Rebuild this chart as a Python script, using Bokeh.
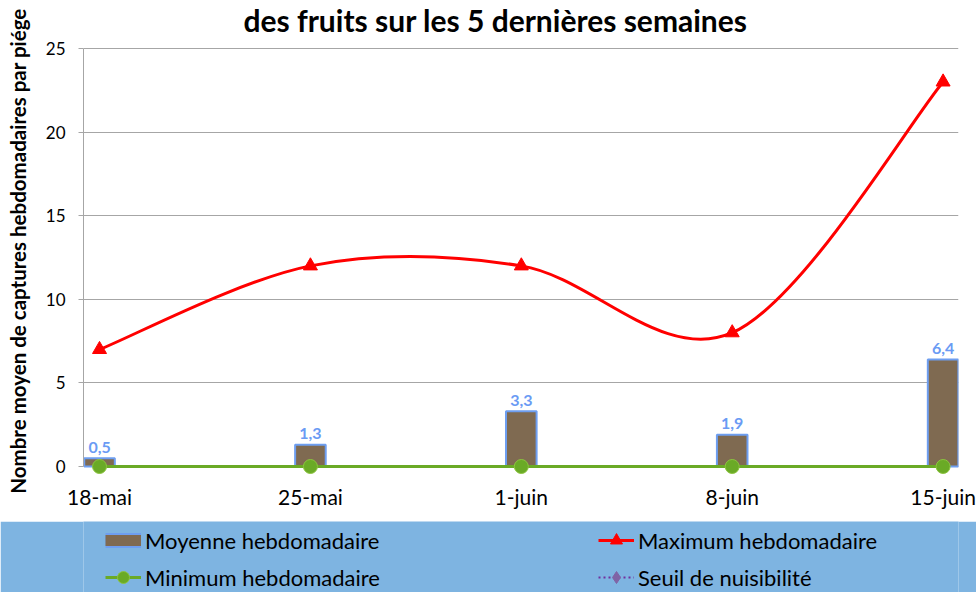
import numpy as np
from bokeh.plotting import figure
from bokeh.models import (Range1d, FixedTicker, Legend, LegendItem, Label,
                          ColumnDataSource)
from bokeh.layouts import column
from bokeh.embed import file_html
from bokeh.resources import INLINE
from bokeh.core.properties import value

# ---- data ----
weeks = ["18-mai", "25-mai", "1-juin", "8-juin", "15-juin"]
moyenne = [0.5, 1.3, 3.3, 1.9, 6.4]
maximum = [7, 12, 12, 8, 23]
minimum = [0, 0, 0, 0, 0]
seuil = [np.nan, np.nan, np.nan, np.nan, np.nan]
y_ticks = [0, 5, 10, 15, 20, 25]

FONT = "Lato"
GRID = "#A6A6A6"
BAR_FILL = "#7F6A51"
BAR_LINE = "#6E9EF0"
RED = "#FF0000"
GREEN = "#6AAA26"
PURPLE = "#7F64A6"
LABEL_BLUE = "#6A9BF4"
BAND = "#7EB4E1"

xs = np.arange(len(weeks), dtype=float)

# smoothed line (Catmull-Rom style) as bezier segments built from the data
mx = np.array(maximum, dtype=float)
n = len(xs)
seg = dict(x0=[], y0=[], x1=[], y1=[], cx0=[], cy0=[], cx1=[], cy1=[])
for i in range(n - 1):
    ip = max(i - 1, 0)
    inn = min(i + 2, n - 1)
    seg["x0"].append(xs[i]); seg["y0"].append(mx[i])
    seg["x1"].append(xs[i + 1]); seg["y1"].append(mx[i + 1])
    seg["cx0"].append(xs[i] + (xs[i + 1] - xs[ip]) / 6)
    seg["cy0"].append(mx[i] + (mx[i + 1] - mx[ip]) / 6)
    seg["cx1"].append(xs[i + 1] - (xs[inn] - xs[i]) / 6)
    seg["cy1"].append(mx[i + 1] - (mx[inn] - mx[i]) / 6)

src = ColumnDataSource(dict(
    x=xs, moy=moyenne, mx=maximum, mn=minimum, se=seuil,
    lbl=[f"{v:.1f}".replace(".", ",") for v in moyenne],
))

# ---- main chart ----
p = figure(width=976, height=521,
           x_range=Range1d(-0.076, 4.073), y_range=Range1d(-2.093, 27.871),
           output_backend="svg", toolbar_location=None,
           min_border_left=83, min_border_right=18,
           min_border_top=0, min_border_bottom=20)
p.outline_line_color = None
p.background_fill_color = "white"
p.border_fill_color = "white"

p.add_layout(Label(x=412, y=482, x_units="screen", y_units="screen",
                   text="des fruits sur les 5 dernières semaines",
                   text_align="center", text_baseline="alphabetic",
                   text_font=FONT, text_font_size="30px",
                   text_font_style="bold", text_color="black"))

p.xgrid.grid_line_color = None
p.ygrid.ticker = FixedTicker(ticks=y_ticks)
p.ygrid.grid_line_color = GRID
p.ygrid.grid_line_width = 1

xa = p.xaxis[0]
xa.ticker = FixedTicker(ticks=list(xs))
xa.major_label_overrides = {i: w for i, w in enumerate(weeks)}
xa.axis_line_color = None
xa.major_tick_line_color = None
xa.minor_tick_line_color = None
xa.major_tick_out = 0
xa.major_tick_in = 0
xa.major_label_standoff = -18
xa.major_label_text_font = FONT
xa.major_label_text_font_size = "21px"
xa.major_label_text_color = "black"

ya = p.yaxis[0]
ya.ticker = FixedTicker(ticks=y_ticks)
ya.bounds = (0, 25)
ya.axis_line_color = GRID
ya.major_tick_line_color = GRID
ya.minor_tick_line_color = None
ya.major_tick_out = 5
ya.major_tick_in = 0
ya.major_label_standoff = 13
ya.major_label_text_font = FONT
ya.major_label_text_font_size = "17px"
ya.major_label_text_color = "black"
ya.axis_label = "Nombre moyen de captures hebdomadaires par piége"
ya.axis_label_text_font = FONT
ya.axis_label_text_font_size = "20.5px"
ya.axis_label_text_font_style = "bold"
ya.axis_label_text_color = "black"
ya.axis_label_standoff = 13

p.vbar(x="x", top="moy", bottom=0, width=0.145, source=src,
       fill_color=BAR_FILL, line_color=BAR_LINE, line_width=2)
p.line(x="x", y="mn", source=src, line_color=GREEN, line_width=3)
p.scatter(x="x", y="mn", source=src, marker="circle", size=14,
          fill_color=GREEN, line_color="#8CC43F", line_width=1)
p.bezier(x0="x0", y0="y0", x1="x1", y1="y1", cx0="cx0", cy0="cy0",
         cx1="cx1", cy1="cy1", source=ColumnDataSource(seg),
         line_color=RED, line_width=3)
p.scatter(x="x", y="mx", source=src, marker="triangle", size=14,
          fill_color=RED, line_color=RED)
p.line(x="x", y="se", source=src, line_color=PURPLE, line_dash="2 2")
p.text(x="x", y="moy", text="lbl", source=src, y_offset=-11,
       text_align="center", text_baseline="alphabetic",
       text_font=value(FONT), text_font_style="bold",
       text_font_size="16px", text_color=LABEL_BLUE)

# ---- legend band (same series, drawn out of its visible range) ----
lg = figure(width=976, height=71, x_range=Range1d(-20, -19),
            y_range=Range1d(-20, -19),
            output_backend="svg", toolbar_location=None,
            x_axis_location=None, y_axis_location=None,
            min_border_left=83, min_border_right=18,
            min_border_top=0, min_border_bottom=0)
lg.grid.visible = False
lg.outline_line_color = None
lg.background_fill_color = BAND
lg.border_fill_color = BAND

# bar swatch: bordered brown band
r_bar_b = lg.line(x="x", y="moy", source=src, line_color=BAR_LINE, line_width=15)
r_bar_f = lg.line(x="x", y="moy", source=src, line_color=BAR_FILL, line_width=11)
r_red_l = lg.line(x="x", y="mx", source=src, line_color=RED, line_width=3)
r_red_m = lg.scatter(x="x", y="mx", source=src, marker="triangle", size=14,
                     fill_color=RED, line_color=RED)
r_grn_l = lg.line(x="x", y="mn", source=src, line_color=GREEN, line_width=3)
r_grn_m = lg.scatter(x="x", y="mn", source=src, marker="circle", size=13,
                     fill_color=GREEN, line_color="#8CC43F")
r_pur_l = lg.line(x="x", y="mn", source=src, line_color="#7030A0",
                  line_width=2, line_dash="2 3")
r_pur_m = lg.scatter(x="x", y="mn", source=src, marker="diamond", size=12,
                     fill_color=PURPLE, line_color=PURPLE)

legend = Legend(items=[
    LegendItem(label="Moyenne hebdomadaire", renderers=[r_bar_b, r_bar_f]),
    LegendItem(label="Maximum hebdomadaire", renderers=[r_red_l, r_red_m]),
    LegendItem(label="Minimum hebdomadaire", renderers=[r_grn_l, r_grn_m]),
    LegendItem(label="Seuil de nuisibilité", renderers=[r_pur_l, r_pur_m]),
], orientation="horizontal", ncols=2, location=(17, -5), padding=5,
   spacing=7, glyph_width=36, glyph_height=30, label_width=446,
   label_height=24, label_standoff=4, background_fill_alpha=0,
   border_line_alpha=0, label_text_font=FONT, label_text_font_size="22px",
   label_text_color="black", margin=0)
lg.add_layout(legend, "center")

layout = column(p, lg, spacing=0)
open("out.html", "w").write(file_html(layout, INLINE))
